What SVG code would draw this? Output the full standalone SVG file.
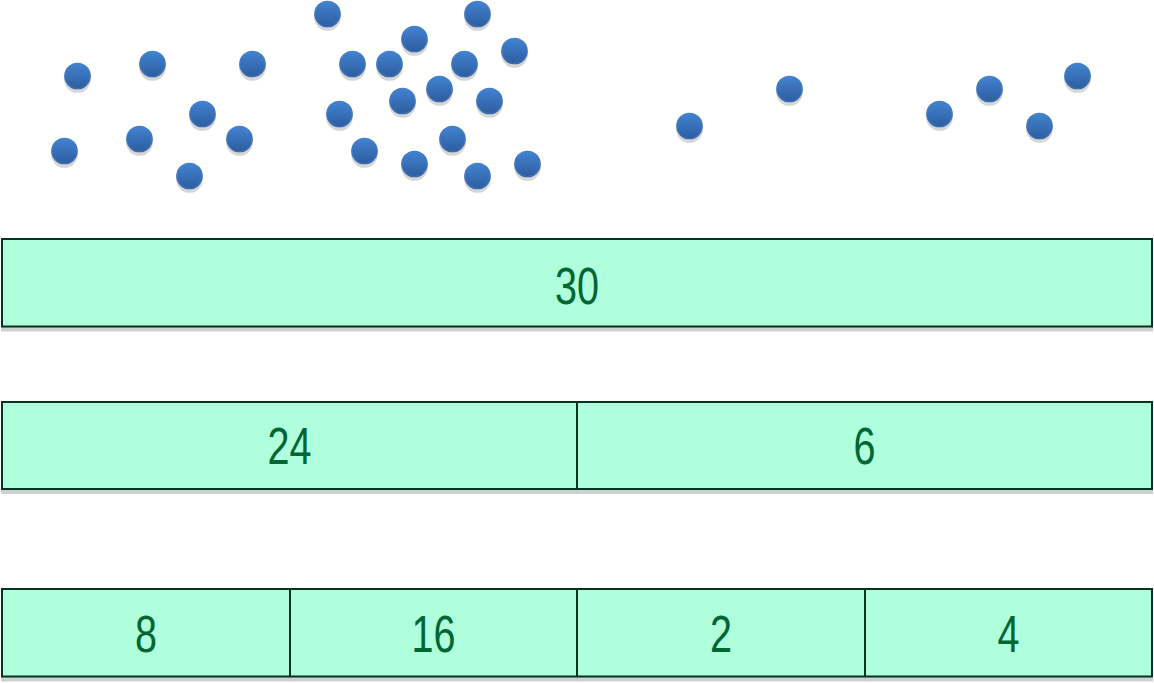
<svg xmlns="http://www.w3.org/2000/svg" xmlns:xlink="http://www.w3.org/1999/xlink" width="1154" height="683" viewBox="0 0 1154 683">
<defs>
<linearGradient id="dotg" x1="0" y1="0" x2="0" y2="1">
<stop offset="0" stop-color="#4384d2"/>
<stop offset="1" stop-color="#2c5c9e"/>
</linearGradient>
<g id="dot">
<circle cx="0" cy="3.5" r="13.3" fill="#d6d6d6"/>
<circle cx="0" cy="0" r="13.3" fill="url(#dotg)"/>
<circle cx="0" cy="0" r="12.6" fill="none" stroke="#4a82c8" stroke-width="1" opacity="0.6"/>
</g>
</defs>
<style>
.bar{fill:#b0ffdc;stroke:#003322;stroke-width:2}
.sh{fill:#d0d0d0;stroke:#d0d0d0;stroke-width:2}
.div{stroke:#003322;stroke-width:2}
.divsh{stroke:#c8c8c8;stroke-width:2}
.lbl{font-family:"Liberation Sans",Arial,sans-serif;font-size:52px;fill:#006633;text-anchor:middle}
</style>
<rect width="1154" height="683" fill="#ffffff"/>
<g id="dots">
<use xlink:href="#dot" x="77.5" y="76"/>
<use xlink:href="#dot" x="152.5" y="64"/>
<use xlink:href="#dot" x="252.5" y="64"/>
<use xlink:href="#dot" x="202.5" y="114"/>
<use xlink:href="#dot" x="64.5" y="151"/>
<use xlink:href="#dot" x="139.5" y="139"/>
<use xlink:href="#dot" x="239.5" y="139"/>
<use xlink:href="#dot" x="189.5" y="176"/>
<use xlink:href="#dot" x="327.5" y="14"/>
<use xlink:href="#dot" x="477.5" y="14"/>
<use xlink:href="#dot" x="414.5" y="39"/>
<use xlink:href="#dot" x="514.5" y="51"/>
<use xlink:href="#dot" x="352.5" y="64"/>
<use xlink:href="#dot" x="389.5" y="64"/>
<use xlink:href="#dot" x="464.5" y="64"/>
<use xlink:href="#dot" x="439.5" y="89"/>
<use xlink:href="#dot" x="402.5" y="101"/>
<use xlink:href="#dot" x="489.5" y="101"/>
<use xlink:href="#dot" x="339.5" y="114"/>
<use xlink:href="#dot" x="452.5" y="139"/>
<use xlink:href="#dot" x="364.5" y="151"/>
<use xlink:href="#dot" x="414.5" y="164"/>
<use xlink:href="#dot" x="477.5" y="176"/>
<use xlink:href="#dot" x="527.5" y="164"/>
<use xlink:href="#dot" x="689.5" y="126"/>
<use xlink:href="#dot" x="789.5" y="89"/>
<use xlink:href="#dot" x="939.5" y="114"/>
<use xlink:href="#dot" x="989.5" y="89"/>
<use xlink:href="#dot" x="1077.5" y="76"/>
<use xlink:href="#dot" x="1039.5" y="126"/>
</g>
<g id="bar1">
<rect class="sh" x="2" y="243" width="1150" height="87.5"/>
<rect class="bar" x="2" y="239" width="1150" height="87.5"/>
<text class="lbl" x="577" y="303.5" textLength="44" lengthAdjust="spacingAndGlyphs">30</text>
</g>
<g id="bar2">
<rect class="sh" x="2" y="406" width="1150" height="87"/>
<line class="divsh" x1="577" y1="406" x2="577" y2="493"/>
<rect class="bar" x="2" y="402" width="1150" height="87"/>
<line class="div" x1="577" y1="402" x2="577" y2="489"/>
<text class="lbl" x="289.5" y="464" textLength="44" lengthAdjust="spacingAndGlyphs">24</text>
<text class="lbl" x="864.5" y="464" textLength="22" lengthAdjust="spacingAndGlyphs">6</text>
</g>
<g id="bar3">
<rect class="sh" x="2" y="593" width="1150" height="87.5"/>
<line class="divsh" x1="290" y1="593" x2="290" y2="680.5"/>
<line class="divsh" x1="577" y1="593" x2="577" y2="680.5"/>
<line class="divsh" x1="865" y1="593" x2="865" y2="680.5"/>
<rect class="bar" x="2" y="589" width="1150" height="87.5"/>
<line class="div" x1="290" y1="589" x2="290" y2="676.5"/>
<line class="div" x1="577" y1="589" x2="577" y2="676.5"/>
<line class="div" x1="865" y1="589" x2="865" y2="676.5"/>
<text class="lbl" x="146" y="652" textLength="22" lengthAdjust="spacingAndGlyphs">8</text>
<text class="lbl" x="433.5" y="652" textLength="44" lengthAdjust="spacingAndGlyphs">16</text>
<text class="lbl" x="721" y="652" textLength="22" lengthAdjust="spacingAndGlyphs">2</text>
<text class="lbl" x="1008.5" y="652" textLength="22" lengthAdjust="spacingAndGlyphs">4</text>
</g>
<g id="connectors"/>
</svg>
